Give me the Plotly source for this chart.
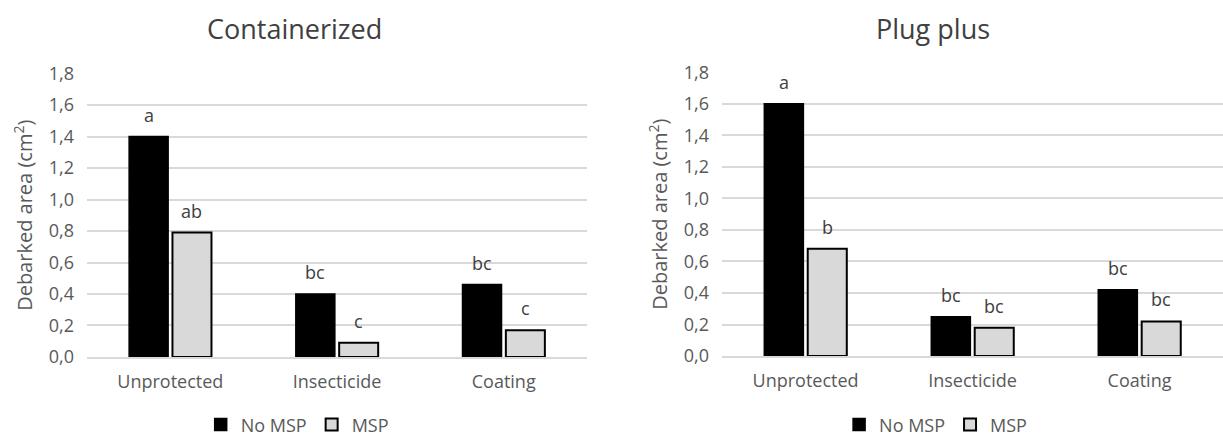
import plotly.graph_objects as go

categories = ["Unprotected", "Insecticide", "Coating"]
series_names = ["No MSP", "MSP"]

cont_nomsp = [1.40, 0.40, 0.46]
cont_msp = [0.79, 0.09, 0.17]
cont_letters_nomsp = ["a", "bc", "bc"]
cont_letters_msp = ["ab", "c", "c"]

plug_nomsp = [1.60, 0.25, 0.42]
plug_msp = [0.68, 0.18, 0.22]
plug_letters_nomsp = ["a", "bc", "bc"]
plug_letters_msp = ["b", "bc", "bc"]

titles = ["Containerized", "Plug plus"]
y_ticks = [0, 0.2, 0.4, 0.6, 0.8, 1.0, 1.2, 1.4, 1.6, 1.8]

TXT = "#595959"
GRID = "#d9d9d9"
FONT = "Open Sans"
BLACK = "#000000"
LIGHT = "#d9d9d9"
FS = 18

BARGAP = 0.48
BARGROUPGAP = 0.1

fig = go.Figure()

panels = [
    (cont_nomsp, cont_msp, cont_letters_nomsp, cont_letters_msp, "x", "y", "legend"),
    (plug_nomsp, plug_msp, plug_letters_nomsp, plug_letters_msp, "x2", "y2", "legend2"),
]

for nomsp, msp, ln, lm, xa, ya, lg in panels:
    fig.add_trace(go.Bar(
        x=categories, y=nomsp, name=series_names[0], xaxis=xa, yaxis=ya,
        marker=dict(color=BLACK, line=dict(color=BLACK, width=1.5)),
        legend=lg, hoverinfo="y",
    ))
    fig.add_trace(go.Bar(
        x=categories, y=msp, name=series_names[1], xaxis=xa, yaxis=ya,
        marker=dict(color=LIGHT, line=dict(color=BLACK, width=2)),
        legend=lg, hoverinfo="y",
    ))
    half = (1 - BARGAP) / 4
    for i, cat in enumerate(categories):
        for vals, letters, off in ((nomsp, ln, -half), (msp, lm, half)):
            fig.add_annotation(
                x=i + off, y=vals[i], xref=xa, yref=ya, text=letters[i],
                showarrow=False, yanchor="bottom", yshift=8,
                font=dict(family=FONT, size=FS, color="#404040"),
            )

axis_common = dict(
    showgrid=False, showline=True, linecolor=GRID, linewidth=1.5,
    ticks="", tickfont=dict(family=FONT, size=FS, color=TXT),
    type="category", fixedrange=True,
)
yaxis_common = dict(
    range=[0, 1.8], tickvals=y_ticks, tickformat=".1f",
    showgrid=True, gridcolor=GRID, gridwidth=1.5, zeroline=False,
    showline=False, ticks="", tickfont=dict(family=FONT, size=FS, color=TXT),
    ticklabelstandoff=12,
    title=dict(text="Debarked area (cm<sup>2</sup>)", font=dict(family=FONT, size=20, color=TXT), standoff=10),
    fixedrange=True,
)

fig.update_layout(
    width=1223, height=438,
    margin=dict(l=0, r=0, t=0, b=0, autoexpand=False),
    paper_bgcolor="white", plot_bgcolor="white",
    separators=",.",
    barmode="group", bargap=BARGAP, bargroupgap=BARGROUPGAP,
    font=dict(family=FONT, color=TXT),
    xaxis=dict(domain=[0.0711, 0.4800], anchor="y", ticklabelstandoff=8, **axis_common),
    xaxis2=dict(domain=[0.5904, 1.0], anchor="y2", ticklabelstandoff=8, **axis_common),
    yaxis=dict(domain=[0.185, 0.832], anchor="x", **yaxis_common),
    yaxis2=dict(domain=[0.187, 0.835], anchor="x2", **yaxis_common),
    legend=dict(orientation="h", x=0.243, y=0.03, xanchor="center", yanchor="middle",
                font=dict(family=FONT, size=FS, color=TXT), itemwidth=30,
                traceorder="normal", bgcolor="rgba(0,0,0,0)"),
    legend2=dict(orientation="h", x=0.765, y=0.03, xanchor="center", yanchor="middle",
                 font=dict(family=FONT, size=FS, color=TXT), itemwidth=30,
                 traceorder="normal", bgcolor="rgba(0,0,0,0)"),
    showlegend=True,
)

title_x = [294 / 1223, 933 / 1223]
for t, xp in zip(titles, title_x):
    fig.add_annotation(
        x=xp, y=1 - 28 / 438, xref="paper", yref="paper", text=t, showarrow=False,
        xanchor="center", yanchor="middle",
        font=dict(family=FONT, size=27, color="#404040"),
    )

fig.write_html(
    "out.html",
    config={"displayModeBar": False},
    post_script="document.body.style.margin='0';document.body.style.overflow='hidden';",
)
